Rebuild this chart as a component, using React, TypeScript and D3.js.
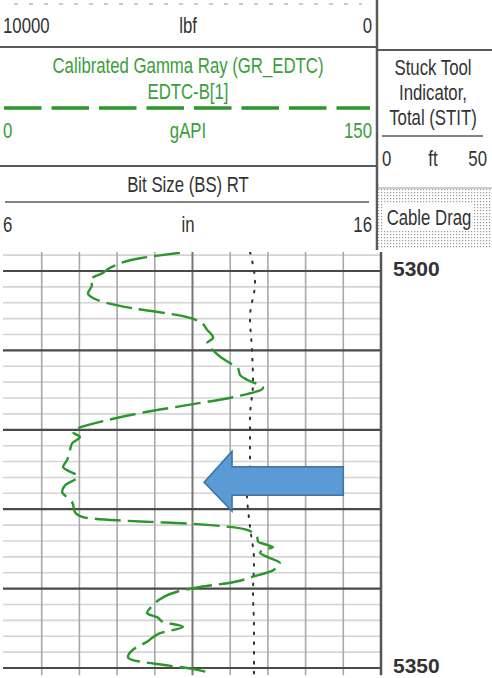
import * as d3 from "d3";

// Gamma ray curve (depth ft, gAPI)
const GR_DEPTH = [
  5297.7, 5298.4, 5299.6, 5300.3, 5301.1, 5301.8, 5302.8, 5303.4, 5303.9, 5304.7,
  5305.2, 5305.8, 5306.4, 5307.4, 5308.4, 5309.1, 5310.0, 5310.8, 5311.6, 5312.2,
  5313.1, 5313.7, 5314.7, 5315.9, 5316.9, 5317.9, 5319.0, 5319.7, 5320.3, 5320.9,
  5321.7, 5322.5, 5323.8, 5324.7, 5325.9, 5327.0, 5327.8, 5328.5, 5329.1, 5330.4,
  5331.0, 5331.4, 5331.6, 5331.8, 5332.2, 5332.6, 5333.5, 5334.1, 5334.5, 5334.8,
  5335.1, 5335.5, 5336.0, 5336.8, 5337.7, 5338.5, 5339.2, 5339.8, 5340.4, 5341.1,
  5342.1, 5343.1, 5343.6, 5344.2, 5344.8, 5345.6, 5346.7, 5347.7, 5348.6, 5349.0,
  5349.5, 5350.0, 5350.6,
];
const GR_VALUE = [
  70.0, 54.1, 42.2, 39.0, 34.2, 35.0, 33.4, 35.4, 39.4, 51.3,
  62.1, 72.8, 78.0, 80.8, 83.2, 80.8, 83.2, 86.0, 89.9, 93.1,
  93.9, 96.7, 103.1, 91.1, 72.8, 54.1, 38.2, 30.2, 27.5, 30.2,
  27.1, 26.3, 25.1, 23.5, 29.4, 24.3, 23.1, 25.1, 27.1, 28.3,
  31.4, 45.0, 58.1, 72.8, 88.7, 96.7, 100.7, 101.1, 104.7, 107.0,
  103.1, 101.9, 104.7, 109.8, 107.0, 99.1, 91.1, 78.0, 68.8, 63.3,
  59.3, 56.9, 60.9, 63.3, 71.2, 62.1, 56.9, 51.3, 49.3, 51.3,
  60.9, 72.8, 82.0,
];

// Tension curve (dotted), lbf
const TENS_DEPTH = [5297.6, 5301.5, 5305.8, 5310.0, 5314.1, 5318.4, 5323.8, 5328.0, 5332.2, 5336.4, 5340.6, 5344.8, 5350.9];
const TENS_VALUE = [3475, 3342, 3475, 3422, 3395, 3475, 3475, 3554, 3475, 3369, 3395, 3369, 3369];

const DEPTH_LABELS = [5300, 5350];
const ARROW_DEPTH = 5326.6;
const ARROW_TIP_GR = 79.6;
const ARROW_END_GR = 135;

const W = 492;
const H = 678;
const FONT = "'Liberation Sans', Arial, sans-serif";
const GREEN_TXT = "#3a9e3a";
const GREEN = "#2a972a";
const LINE = "#5a5a5a";
const DARK = "#333";

// condensed text (Arial Narrow look)
function NText({ x, y, anchor = "start", fill = DARK, children }: {
  x: number; y: number; anchor?: string; fill?: string; children: string;
}) {
  return (
    <text
      transform={`translate(${x},${y}) scale(0.78,1)`}
      fontFamily={FONT}
      fontSize={21.5}
      fill={fill}
      textAnchor={anchor}
    >
      {children}
    </text>
  );
}

export default function App() {
  const gx = d3.scaleLinear().domain([0, 150]).range([4, 381]);
  const tx = d3.scaleLinear().domain([10000, 0]).range([4, 381]);
  const dy = d3.scaleLinear().domain([5300, 5350]).range([271, 668]);
  const top = 5297.6;
  const bottom = 5350.9;

  const minor = d3.range(5298, 5351, 2).filter((d) => d % 10 !== 0);
  const major = d3.range(5300, 5351, 10);
  const vLines = d3.range(1, 10).map((i) => i * 15);

  const gr = GR_DEPTH.map((d, i) => ({ d, v: GR_VALUE[i] }));
  const tens = TENS_DEPTH.map((d, i) => ({ d, v: TENS_VALUE[i] }));

  const grLine = d3.line<{ d: number; v: number }>()
    .x((p) => gx(p.v))
    .y((p) => dy(p.d))
    .curve(d3.curveMonotoneY);
  const tLine = d3.line<{ d: number; v: number }>()
    .x((p) => tx(p.v))
    .y((p) => dy(p.d))
    .curve(d3.curveMonotoneY);

  // arrow annotation
  const ay = dy(ARROW_DEPTH);
  const tipX = gx(ARROW_TIP_GR);
  const headX = tipX + 28;
  const endX = gx(ARROW_END_GR);
  const arrow = [
    [tipX, ay],
    [headX, ay - 31],
    [headX, ay - 15.5],
    [endX, ay - 15.5],
    [endX, ay + 13],
    [headX, ay + 13],
    [headX, ay + 29],
  ];

  return (
    <svg width={W} height={H} style={{ position: "absolute", left: 0, top: 0, background: "#fff" }}>
      <defs>
        <pattern id="dots" width="3" height="3" patternUnits="userSpaceOnUse">
          <rect width="3" height="3" fill="#fff" />
          <rect width="1.2" height="1.2" fill="#9a9a9a" />
        </pattern>
        <clipPath id="track">
          <rect x={0} y={dy(top)} width={381} height={dy(bottom) - dy(top)} />
        </clipPath>
      </defs>

      {/* ---- header ---- */}
      <line x1={14} x2={362} y1={4} y2={4} stroke="#bbb" strokeWidth={1.5} strokeDasharray="4 11" />
      <NText x={3} y={33}>10000</NText>
      <NText x={188} y={33} anchor="middle">lbf</NText>
      <NText x={372} y={33} anchor="end">0</NText>
      <line x1={0} x2={377} y1={47} y2={47} stroke={LINE} strokeWidth={2} />

      <NText x={188} y={73} anchor="middle" fill={GREEN_TXT}>Calibrated Gamma Ray (GR_EDTC)</NText>
      <NText x={188} y={99} anchor="middle" fill={GREEN_TXT}>EDTC-B[1]</NText>
      <line x1={4} x2={370} y1={108} y2={108} stroke={GREEN} strokeWidth={3.5} strokeDasharray="37.5 10" />
      <NText x={3} y={138} fill={GREEN_TXT}>0</NText>
      <NText x={188} y={138} anchor="middle" fill={GREEN_TXT}>gAPI</NText>
      <NText x={372} y={138} anchor="end" fill={GREEN_TXT}>150</NText>
      <line x1={0} x2={377} y1={166} y2={166} stroke={LINE} strokeWidth={2} />

      <NText x={188} y={192} anchor="middle">Bit Size (BS) RT</NText>
      <line x1={5} x2={369} y1={202} y2={202} stroke={LINE} strokeWidth={1.5} />
      <NText x={3} y={232}>6</NText>
      <NText x={188} y={232} anchor="middle">in</NText>
      <NText x={372} y={232} anchor="end">16</NText>

      {/* right column */}
      <line x1={377} x2={377} y1={0} y2={250} stroke={LINE} strokeWidth={2.5} />
      <line x1={378} x2={492} y1={50} y2={50} stroke={LINE} strokeWidth={2} />
      <NText x={433} y={75} anchor="middle">Stuck Tool</NText>
      <NText x={433} y={100} anchor="middle">Indicator,</NText>
      <NText x={433} y={125} anchor="middle">Total (STIT)</NText>
      <line x1={382} x2={483} y1={136} y2={136} stroke={LINE} strokeWidth={1.5} />
      <NText x={382} y={166}>0</NText>
      <NText x={433} y={166} anchor="middle">ft</NText>
      <NText x={487} y={166} anchor="end">50</NText>
      <rect x={378} y={188} width={114} height={60} fill="url(#dots)" />
      <line x1={378} x2={492} y1={188} y2={188} stroke="#999" strokeWidth={1} />
      <rect x={384} y={203} width={88} height={28} fill="#fff" />
      <NText x={429} y={225} anchor="middle">Cable Drag</NText>

      {/* ---- track grid ---- */}
      {minor.map((d) => (
        <line key={"m" + d} x1={3} x2={381} y1={dy(d)} y2={dy(d)} stroke="#d4d4d4" strokeWidth={1.6} />
      ))}
      {vLines.map((v) => (
        <line
          key={"v" + v}
          x1={gx(v)} x2={gx(v)} y1={dy(top)} y2={dy(bottom)}
          stroke={v === 75 ? "#777" : "#a8a8a8"}
          strokeWidth={v === 75 ? 2 : 1.6}
        />
      ))}
      {major.map((d) => (
        <line key={"M" + d} x1={3} x2={381} y1={dy(d)} y2={dy(d)} stroke="#4a4a4a" strokeWidth={2.2} />
      ))}
      <line x1={gx(150)} x2={gx(150)} y1={dy(top)} y2={dy(bottom)} stroke="#555" strokeWidth={2.5} />

      {/* curves */}
      <g clipPath="url(#track)">
        <path d={tLine(tens) ?? ""} fill="none" stroke={DARK} strokeWidth={2} strokeDasharray="1.8 8" strokeLinecap="round" />
        <path d={grLine(gr) ?? ""} fill="none" stroke={GREEN} strokeWidth={2.4} strokeDasharray="26 7" />
      </g>

      {/* arrow annotation */}
      <polygon points={arrow.map((p) => p.join(",")).join(" ")} fill="#5b9bd5" stroke="#41719c" strokeWidth={1.5} />

      {/* depth labels */}
      {DEPTH_LABELS.map((d) => (
        <text
          key={"d" + d}
          x={393} y={dy(d) + 5}
          fontFamily={FONT}
          fontSize={21} fontWeight="bold" fill={DARK}
        >
          {d}
        </text>
      ))}
    </svg>
  );
}
